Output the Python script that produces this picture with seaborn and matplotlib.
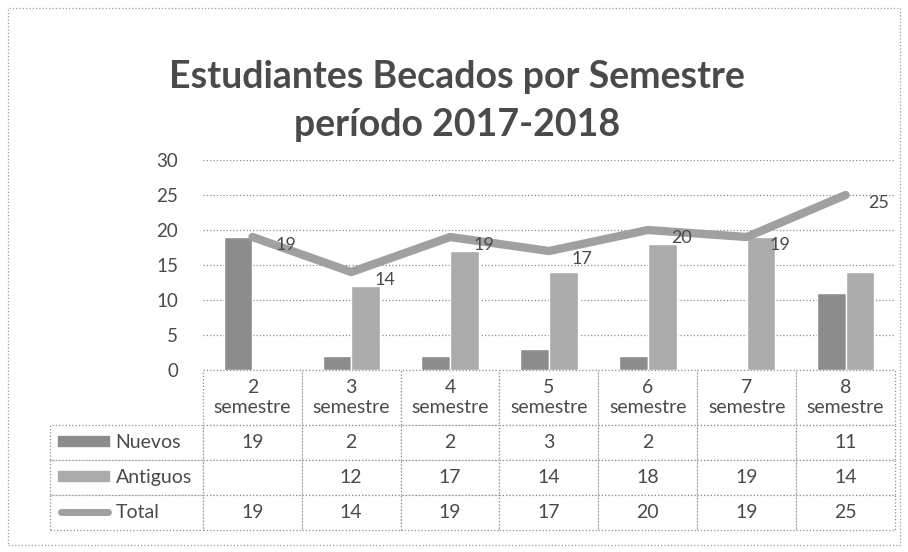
import matplotlib
matplotlib.use("Agg")
from matplotlib import pyplot as plt
from matplotlib.patches import Rectangle
from matplotlib.lines import Line2D
import seaborn as sns
import pandas as pd
import numpy as np

# datos
semestres = ['2\nsemestre', '3\nsemestre', '4\nsemestre', '5\nsemestre',
             '6\nsemestre', '7\nsemestre', '8\nsemestre']
nuevos = [19, 2, 2, 3, 2, np.nan, 11]
antiguos = [np.nan, 12, 17, 14, 18, 19, 14]
total = [19, 14, 19, 17, 20, 19, 25]

titulo = 'Estudiantes Becados por Semestre\nperíodo 2017-2018'

c_nuevos = '#8c8c8c'
c_antiguos = '#ababab'
c_total = '#a0a0a0'
c_texto = '#4a4a4a'

sns.set_theme(style='white')
plt.rcParams['font.family'] = ['Lato', 'DejaVu Sans']

df = pd.DataFrame({'semestre': semestres, 'Nuevos': nuevos, 'Antiguos': antiguos})
df_largo = df.melt(id_vars='semestre', var_name='serie', value_name='valor')
df_total = pd.DataFrame({'semestre': semestres, 'Total': total})

fig = plt.figure(figsize=(9.08, 5.52), dpi=100)
ax = fig.add_axes([0.2236, 0.3297, 0.7621, 0.3804])

sns.barplot(data=df_largo, x='semestre', y='valor', hue='serie',
            palette={'Nuevos': c_nuevos, 'Antiguos': c_antiguos},
            width=0.58, gap=0.0, errorbar=None, legend=False, ax=ax,
            order=semestres, hue_order=['Nuevos', 'Antiguos'])

sns.pointplot(data=df_total, x='semestre', y='Total', order=semestres,
              color=c_total, markers='', linewidth=6, errorbar=None, ax=ax)
for ln in ax.lines:
    ln.set_solid_capstyle('round')
    ln.set_solid_joinstyle('round')

for i, v in enumerate(total):
    ax.annotate(str(v), (i, v), xytext=(24, -6), textcoords='offset points',
                ha='center', va='center', fontsize=13, color=c_texto)

ax.set_ylim(0, 30)
ax.set_xlim(-0.5, len(semestres) - 0.5)
ax.set_yticks(range(0, 31, 5))
ax.tick_params(axis='y', length=0, pad=18, labelsize=13.5, labelcolor=c_texto)
ax.set_xticks([])
ax.set_xlabel('')
ax.set_ylabel('')
ax.yaxis.grid(True, linestyle=':', color='#8a8a8a', linewidth=0.9)
ax.set_axisbelow(True)
for s in ax.spines.values():
    s.set_visible(False)

# tabla de datos
def fmt(v):
    return '' if pd.isna(v) else str(int(v))

celdas = [[''] + semestres,
          ['Nuevos'] + [fmt(v) for v in nuevos],
          ['Antiguos'] + [fmt(v) for v in antiguos],
          ['Total'] + [fmt(v) for v in total]]

tabla = ax.table(cellText=celdas, cellLoc='center',
                 bbox=[-0.2211, -0.7619, 1.2211, 0.7619])
tabla.auto_set_font_size(False)
alturas = [55, 35, 35, 35]
for (r, c), cell in tabla.get_celld().items():
    cell.set_height(alturas[r])
    cell.set_width(153 if c == 0 else 99)
    cell.set_edgecolor('#8f8f8f')
    cell.set_linestyle(':')
    cell.set_linewidth(0.9)
    cell.get_text().set_fontsize(14)
    cell.get_text().set_color(c_texto)
    cell.get_text().set_linespacing(1.25)
    if r == 0 and c == 0:
        cell.visible_edges = ''
    if c == 0 and r > 0:
        cell.get_text().set_horizontalalignment('left')
        cell._loc = 'left'
        cell.PAD = 0.43

# claves de leyenda dentro de la tabla
fig.patches.append(Rectangle((58 / 908, 1 - 446 / 552), 51 / 908, 10 / 552,
                             transform=fig.transFigure, color=c_nuevos))
fig.patches.append(Rectangle((58 / 908, 1 - 481 / 552), 51 / 908, 10 / 552,
                             transform=fig.transFigure, color=c_antiguos))
fig.lines.append(Line2D([61 / 908, 108 / 908], [1 - 512 / 552, 1 - 512 / 552],
                        transform=fig.transFigure, color=c_total, lw=5,
                        solid_capstyle='round'))

fig.text(0.503, 0.817, titulo, ha='center', va='center', fontsize=27,
         fontweight='bold', color=c_texto, linespacing=1.5)

# marco punteado del gráfico
fig.patches.append(Rectangle((8 / 908, 1 - 545 / 552), 892 / 908, 537 / 552,
                             transform=fig.transFigure, fill=False,
                             edgecolor='#9a9a9a', linestyle=':', linewidth=0.9))

fig.savefig('out.png', dpi=100, facecolor='white')
